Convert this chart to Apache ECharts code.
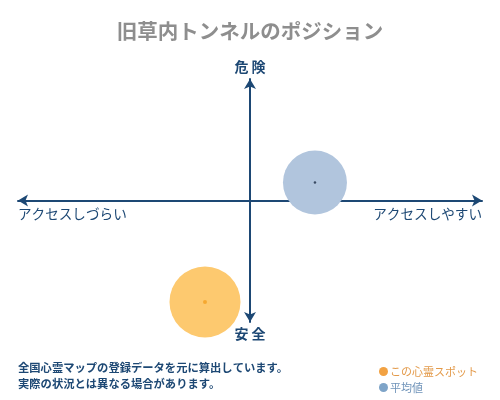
<!DOCTYPE html>
<html><head><meta charset="utf-8">
<script src="https://cdn.jsdelivr.net/npm/echarts@6/dist/echarts.min.js"></script>
<style>html,body{margin:0;padding:0;background:#fff}#c{width:500px;height:400px}</style>
</head><body><div id="c"></div>
<script>
const titleText = '旧草内トンネルのポジション';
const seriesNames = ['この心霊スポット', '平均値'];
const spotPoint = [-1.94, -8.35];
const avgPoint = [2.8, 1.48];
const axisRange = [-10, 10];
const topLabel = '危 険';
const bottomLabel = '安 全';
const leftLabel = 'アクセスしづらい';
const rightLabel = 'アクセスしやすい';
const noteLines = ['全国心霊マップの登録データを元に算出しています。', '実際の状況とは異なる場合があります。'];

const FONT = '"Noto Sans CJK JP", sans-serif';
const NAVY = '#1d4874';
const chart = echarts.init(document.getElementById('c'));
const axisCommon = {
  type: 'value', min: axisRange[0], max: axisRange[1],
  axisLine: { show: true, onZero: true, symbol: ['arrow', 'arrow'], symbolSize: [9, 10],
    lineStyle: { color: NAVY, width: 2 } },
  axisTick: { show: false }, axisLabel: { show: false }, splitLine: { show: false }
};
chart.setOption({
  animation: false,
  title: { text: titleText, left: 'center', top: 16,
    textStyle: { fontFamily: FONT, fontSize: 20.5, fontWeight: 'bold', color: '#8e8e8e' } },
  grid: { left: 18, right: 18, top: 79, bottom: 78 },
  xAxis: axisCommon,
  yAxis: axisCommon,
  legend: {
    orient: 'vertical', left: 374, top: 361, itemGap: 5, itemWidth: 9, itemHeight: 9,
    icon: 'circle', selectedMode: false,
    textStyle: { fontFamily: FONT, fontSize: 11, padding: [0, 0, 0, -3] },
    data: [
      { name: seriesNames[0], itemStyle: { color: '#f2a243' }, textStyle: { color: '#e39a4a' } },
      { name: seriesNames[1], itemStyle: { color: '#7ea4c8' }, textStyle: { color: '#6f93b9' } }
    ]
  },
  graphic: [
    { type: 'text', left: 'center', top: 60, style: { text: topLabel, font: 'bold 14px ' + FONT, fill: NAVY } },
    { type: 'text', left: 'center', top: 327, style: { text: bottomLabel, font: 'bold 14px ' + FONT, fill: NAVY } },
    { type: 'text', left: 18, top: 207, style: { text: leftLabel, font: '13.6px ' + FONT, fill: NAVY } },
    { type: 'text', right: 18, top: 207, style: { text: rightLabel, font: '13.6px ' + FONT, fill: NAVY } },
    { type: 'text', left: 18, top: 360, style: { text: noteLines.join('\n'), font: 'bold 11.3px ' + FONT, fill: NAVY, lineHeight: 16 } }
  ],
  series: [
    { name: seriesNames[0], type: 'scatter', symbol: 'circle', symbolSize: 71, z: 2,
      itemStyle: { color: '#fdc96f', opacity: 1 }, data: [spotPoint] },
    { name: seriesNames[1], type: 'scatter', symbol: 'circle', symbolSize: 64, z: 2,
      itemStyle: { color: '#b1c5dd', opacity: 1 }, data: [avgPoint] },
    { name: 'spotCenter', type: 'scatter', symbolSize: 4, z: 3, itemStyle: { color: '#f2a020' }, data: [spotPoint] },
    { name: 'avgCenter', type: 'scatter', symbolSize: 2.5, z: 3, itemStyle: { color: '#1a2a44' }, data: [avgPoint] }
  ]
});
</script></body></html>
